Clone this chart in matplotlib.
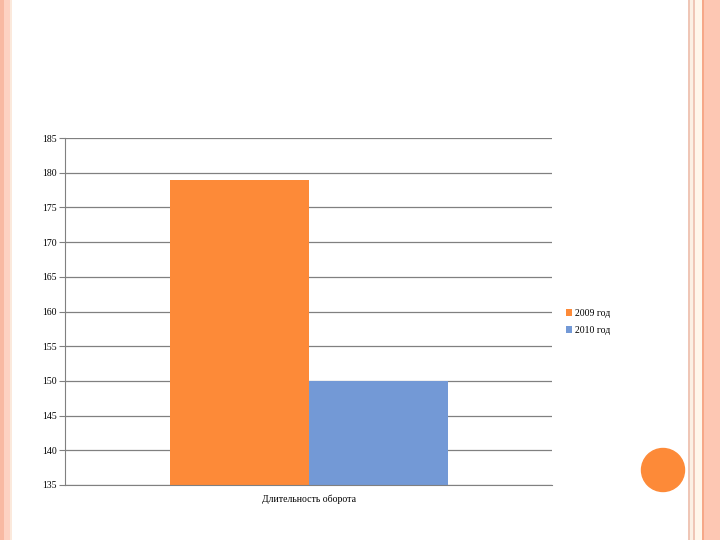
import matplotlib.pyplot as plt
from matplotlib.patches import Rectangle, Ellipse

categories = ['Длительность оборота']
series = ['2009 год', '2010 год']
values = [179, 150]
colors = ['#fd8a38', '#7399d6']

plt.rcParams['font.family'] = ['Liberation Serif', 'DejaVu Serif']

fig = plt.figure(figsize=(7.2, 5.4), dpi=100)
W, H = 720, 540

# slide decoration
def strip(x0, x1, c):
    fig.add_artist(Rectangle((x0 / W, 0), (x1 - x0) / W, 1, transform=fig.transFigure,
                             color=c, lw=0, zorder=0))

strip(0, 4, '#f8b9a2')
strip(4, 10, '#fdd2c2')
strip(10, 12, '#fbe9dc')
strip(688, 690, '#efc6b6')
strip(690, 693, '#fbf0e4')
strip(693, 695, '#efc6b6')
strip(695, 702, '#fff6ea')
strip(702, 704, '#f6a889')
strip(704, 720, '#fdc7b3')
fig.add_artist(Ellipse((663 / W, 1 - 470 / H), 43 / W, 43 / H, transform=fig.transFigure,
                       color='#fd8a38', zorder=1))

ax = fig.add_axes([65 / W, 1 - 485 / H, (552 - 65) / W, (485 - 138) / H])
w = 139 / 487
x = [-w / 2, w / 2]
for i in range(len(series)):
    ax.bar(x[i], values[i], width=w, color=colors[i], label=series[i], zorder=2)

ax.set_xlim(-0.5, 0.5)
ax.set_ylim(135, 185)
ax.set_yticks(range(135, 186, 5))
ax.set_xticks([0])
ax.set_xticklabels(categories, fontsize=7)
ax.tick_params(axis='y', labelsize=7, length=4, color='#808080', pad=2)
ax.tick_params(axis='x', length=0, pad=7)
ax.grid(axis='y', color='#808080', lw=0.9, zorder=1)
for s in ['top', 'right']:
    ax.spines[s].set_visible(False)
ax.spines['left'].set_color('#808080')
ax.spines['bottom'].set_color('#808080')
ax.spines['bottom'].set_zorder(3)

ax.legend(loc='center left', bbox_to_anchor=(1.01, 0.47), frameon=False, fontsize=7,
          handlelength=0.7, handleheight=0.7, handletextpad=0.3, labelspacing=0.9)

fig.savefig('out.png', dpi=100)
